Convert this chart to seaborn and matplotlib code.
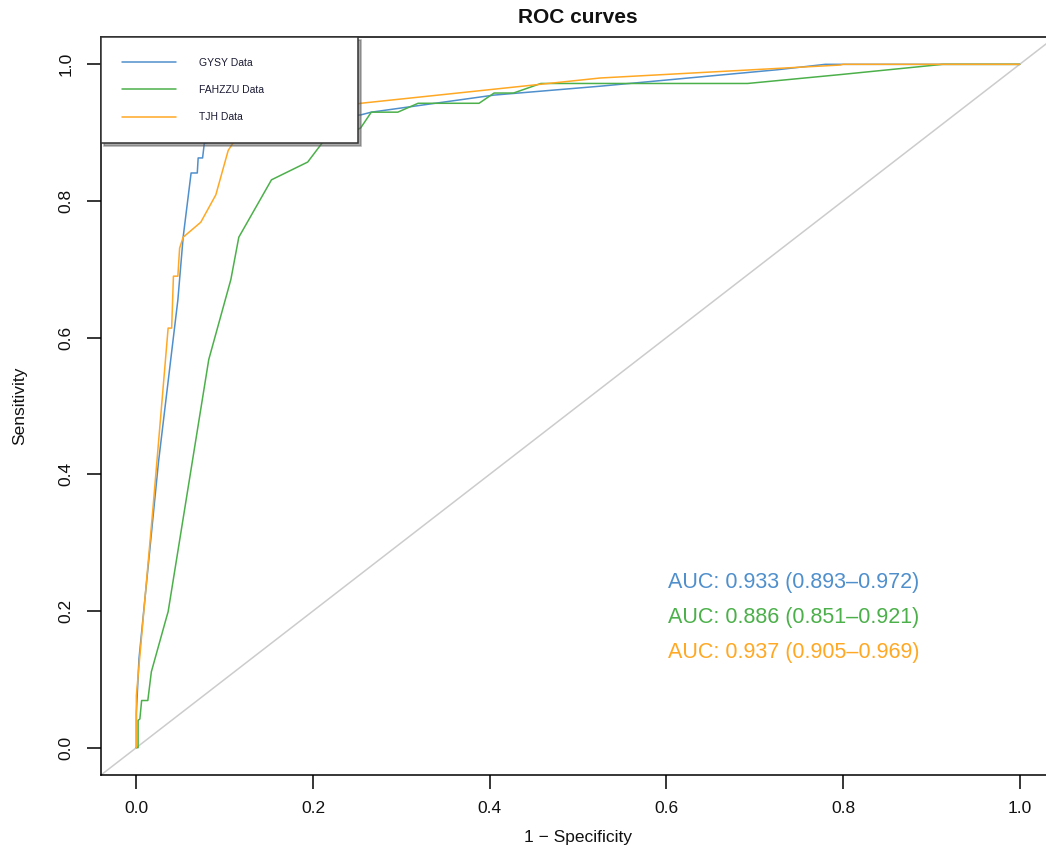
import seaborn as sns
import matplotlib.pyplot as plt
import pandas as pd

# ROC points (1 - specificity, sensitivity)
gysy_fpr = [0, 0.0, 0.003, 0.025, 0.047, 0.053, 0.062, 0.069, 0.070, 0.075, 0.077, 0.082,
            0.12, 0.18, 0.254, 0.266, 0.405, 0.525, 0.725, 0.78, 1.0]
gysy_tpr = [0, 0.05, 0.13, 0.417, 0.655, 0.747, 0.841, 0.841, 0.863, 0.863, 0.885, 0.886,
            0.90, 0.915, 0.926, 0.930, 0.955, 0.968, 0.992, 1.0, 1.0]

fahzzu_fpr = [0, 0.002, 0.002, 0.004, 0.006, 0.013, 0.017, 0.034, 0.036, 0.082, 0.107, 0.116,
              0.153, 0.194, 0.211, 0.224, 0.254, 0.266, 0.296, 0.319, 0.388, 0.405, 0.427,
              0.458, 0.692, 0.797, 0.913, 1.0]
fahzzu_tpr = [0, 0.0, 0.04, 0.042, 0.069, 0.069, 0.111, 0.19, 0.199, 0.568, 0.685, 0.747,
              0.831, 0.857, 0.886, 0.886, 0.907, 0.930, 0.930, 0.943, 0.943, 0.958, 0.958,
              0.972, 0.972, 0.985, 1.0, 1.0]

tjh_fpr = [0, 0.0, 0.019, 0.036, 0.040, 0.042, 0.047, 0.049, 0.053, 0.073, 0.090, 0.104,
           0.110, 0.13, 0.18, 0.254, 0.525, 0.797, 0.80, 1.0]
tjh_tpr = [0, 0.076, 0.353, 0.614, 0.614, 0.69, 0.69, 0.731, 0.747, 0.769, 0.809, 0.874,
           0.886, 0.905, 0.925, 0.943, 0.980, 0.999, 1.0, 1.0]

names = ['GYSY Data', 'FAHZZU Data', 'TJH Data']
colors = ['#4f8fcc', '#4cb04a', '#ffa824']
auc_text = ['AUC: 0.933 (0.893\u20130.972)',
            'AUC: 0.886 (0.851\u20130.921)',
            'AUC: 0.937 (0.905\u20130.969)']
ticks = [0.0, 0.2, 0.4, 0.6, 0.8, 1.0]

sns.set_style('ticks')
plt.rcParams['font.family'] = ['Liberation Sans', 'DejaVu Sans']

fig = plt.figure(figsize=(10.46, 8.55), dpi=100)
ax = fig.add_axes([101 / 1046, 80 / 855, 954 / 1046, 738 / 855])

ax.axline((0, 0), (1, 1), color='#cccccc', lw=1.1, zorder=1)

curves = [(gysy_fpr, gysy_tpr), (fahzzu_fpr, fahzzu_tpr), (tjh_fpr, tjh_tpr)]
for (fx, fy), name, c in zip(curves, names, colors):
    df = pd.DataFrame({'fpr': fx, 'tpr': fy})
    sns.lineplot(data=df, x='fpr', y='tpr', sort=False, estimator=None,
                 color=c, lw=1.1, label=name, ax=ax, zorder=3)

for i, (t, c) in enumerate(zip(auc_text, colors)):
    ax.text(0.744, 0.242 - 0.051 * i, t, color=c, fontsize=15.5,
            ha='center', va='center')

ax.set_xlim(-0.04, 1.04)
ax.set_ylim(-0.04, 1.04)
ax.set_xticks(ticks)
ax.set_yticks(ticks)
ax.set_xticklabels([f'{t:.1f}' for t in ticks])
ax.set_yticklabels([f'{t:.1f}' for t in ticks])
ax.tick_params(length=10, width=1.1, labelsize=12.5, color='black', labelcolor='#111111')
ax.tick_params(axis='x', pad=9)
ax.tick_params(axis='y', pad=10, labelrotation=90)
plt.setp(ax.get_yticklabels(), va='center')
for s in ax.spines.values():
    s.set_linewidth(1.1)
    s.set_color('black')

ax.set_xlabel('1 \u2212 Specificity', fontsize=12.5, labelpad=10, color='#111111')
ax.set_ylabel('Sensitivity', fontsize=12.5, labelpad=22, color='#111111')
ax.set_title('ROC curves', fontsize=15, fontweight='bold', pad=10, color='#111111')

leg = ax.legend(loc='upper left', bbox_to_anchor=(0, 1, 257 / 954, 0), mode='expand',
                borderaxespad=0, fontsize=7.5, handlelength=5.2, handletextpad=2.2,
                labelspacing=1.65, borderpad=2.0, fancybox=False, framealpha=1,
                edgecolor='#333333', shadow={'color': '0.35'})
leg.get_frame().set_linewidth(1.1)
leg.set_zorder(5)
for txt in leg.get_texts():
    txt.set_color('#1a1a33')

fig.savefig('out.png', dpi=100)
